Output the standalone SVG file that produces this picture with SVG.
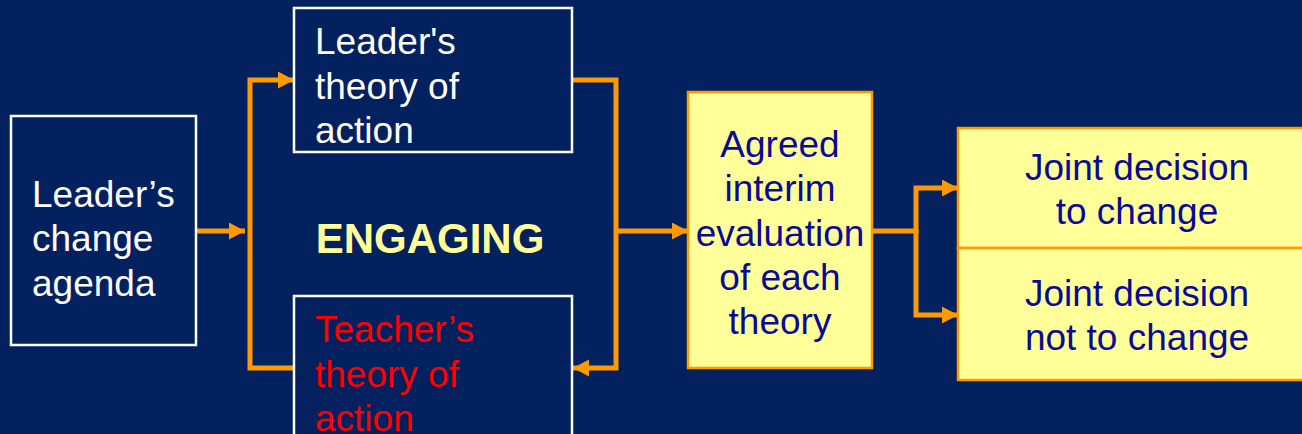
<svg xmlns="http://www.w3.org/2000/svg" width="1302" height="434" viewBox="0 0 1302 434">
  <defs>
    <marker id="arrow" markerUnits="userSpaceOnUse" markerWidth="17" markerHeight="18" refX="16" refY="8.5" orient="auto">
      <path d="M0,0 L16,8.5 L0,17 Z" fill="#ff9900"/>
    </marker>
    <style>
      .txt { font-family: "Liberation Sans", Arial, sans-serif; font-size: 37px; }
      .white { fill: #ffffff; }
      .red { fill: #ff0000; }
      .navy { fill: #0a0a96; }
      .darkbox { fill: #03205f; stroke: #ffffff; stroke-width: 2.5; }
      .yellowbox { fill: #ffff99; stroke: #ff9900; stroke-width: 2.5; }
      .conn { fill: none; stroke: #ff9900; stroke-width: 5; stroke-linejoin: miter; }
    </style>
  </defs>

  <!-- background -->
  <rect x="0" y="0" width="1302" height="434" fill="#03205f"/>

  <!-- connectors -->
  <g id="connectors">
    <path class="conn" d="M196,231 H245" marker-end="url(#arrow)"/>
    <path class="conn" d="M294,368 H250 V80 H294" marker-end="url(#arrow)"/>
    <path class="conn" d="M572,80 H616 V368 H573" marker-end="url(#arrow)"/>
    <path class="conn" d="M616,231 H688" marker-end="url(#arrow)"/>
    <path class="conn" d="M872,231 H916 V188 H958" marker-end="url(#arrow)"/>
    <path class="conn" d="M916,229 V315 H958" marker-end="url(#arrow)"/>
  </g>

  <!-- leader's change agenda -->
  <g id="change-agenda">
    <rect class="darkbox" x="11" y="116" width="185" height="229"/>
    <text class="txt white" x="32" y="207">Leader’s</text>
    <text class="txt white" x="32" y="251">change</text>
    <text class="txt white" x="32" y="296">agenda</text>
  </g>

  <!-- leader's theory of action -->
  <g id="leader-theory">
    <rect class="darkbox" x="294" y="8" width="278" height="144"/>
    <text class="txt white" x="315" y="54">Leader's</text>
    <text class="txt white" x="315" y="99">theory of</text>
    <text class="txt white" x="315" y="143">action</text>
  </g>

  <!-- engaging label -->
  <g id="engaging">
    <text x="430" y="253" text-anchor="middle" font-family="Liberation Sans, Arial, sans-serif" font-size="42" font-weight="bold" fill="#ffff99">ENGAGING</text>
  </g>

  <!-- teacher's theory of action -->
  <g id="teacher-theory">
    <rect class="darkbox" x="294" y="296" width="278" height="150"/>
    <text class="txt red" x="315" y="342">Teacher’s</text>
    <text class="txt red" x="315" y="387">theory of</text>
    <text class="txt red" x="315" y="431">action</text>
  </g>

  <!-- agreed interim evaluation -->
  <g id="evaluation">
    <rect class="yellowbox" x="688" y="92" width="184" height="276"/>
    <text class="txt navy" x="780" y="157" text-anchor="middle">Agreed</text>
    <text class="txt navy" x="780" y="201" text-anchor="middle">interim</text>
    <text class="txt navy" x="780" y="246" text-anchor="middle">evaluation</text>
    <text class="txt navy" x="780" y="290" text-anchor="middle">of each</text>
    <text class="txt navy" x="780" y="334" text-anchor="middle">theory</text>
  </g>

  <!-- decision: change -->
  <g id="decision-change">
    <rect class="yellowbox" x="958" y="128" width="360" height="120"/>
    <text class="txt navy" x="1137" y="180" text-anchor="middle">Joint decision</text>
    <text class="txt navy" x="1137" y="224" text-anchor="middle">to change</text>
  </g>

  <!-- decision: no change -->
  <g id="decision-no-change">
    <rect class="yellowbox" x="958" y="248" width="360" height="132"/>
    <text class="txt navy" x="1137" y="306" text-anchor="middle">Joint decision</text>
    <text class="txt navy" x="1137" y="350" text-anchor="middle">not to change</text>
  </g>
</svg>
